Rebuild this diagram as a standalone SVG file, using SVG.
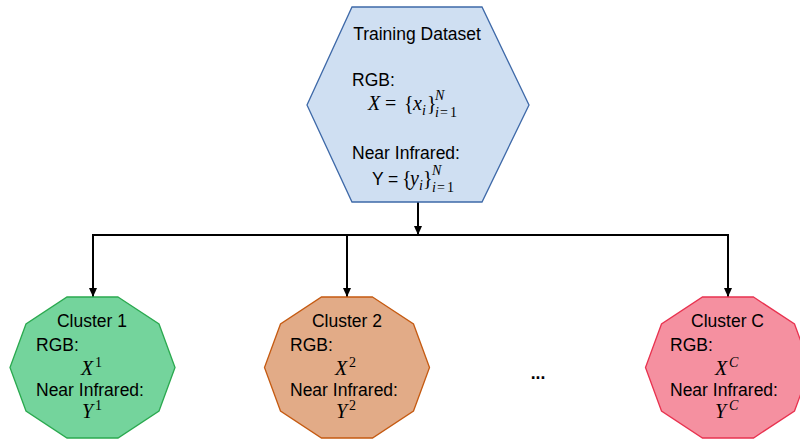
<svg xmlns="http://www.w3.org/2000/svg" width="800" height="441" viewBox="0 0 800 441">
<defs>
<marker id="arr" markerUnits="userSpaceOnUse" markerWidth="10" markerHeight="10" viewBox="0 0 10 10" refX="9" refY="5" orient="auto">
<path d="M0,1 L9,5 L0,9 Z" fill="#000"/>
</marker>
<style>
.t{font-family:"Liberation Sans",Arial,sans-serif;font-size:17.5px;fill:#000}
.m{font-family:"Liberation Serif","Times New Roman",serif;font-size:20px;fill:#000}
.mi{font-style:italic}
.s{font-size:14px}
.c{stroke:#000;stroke-width:2;fill:none}
</style>
</defs>
<g id="connectors">
<line class="c" x1="418" y1="202" x2="418" y2="235" marker-end="url(#arr)"/>
<polyline class="c" points="93,235 728,235 728,297" marker-end="url(#arr)"/>
<line class="c" x1="93" y1="234" x2="93" y2="297" marker-end="url(#arr)"/>
<line class="c" x1="347" y1="235" x2="347" y2="297" marker-end="url(#arr)"/>
</g>
<g id="training">
<polygon points="352,7 482,7 529,105 482,202 352,202 307,105" fill="#cfdff2" stroke="#3e69a8" stroke-width="1.3"/>
<text class="t" x="417" y="40" text-anchor="middle">Training Dataset</text>
<text class="t" x="352" y="86">RGB:</text>
<text class="m"><tspan class="mi" x="368" y="110">X</tspan><tspan x="385">=</tspan><tspan x="404">{</tspan><tspan class="mi" x="413">x</tspan><tspan class="mi s" x="422" y="115">i</tspan><tspan x="427" y="110">}</tspan><tspan class="mi s" x="435" y="100">N</tspan><tspan class="mi s" x="435" y="117">i</tspan><tspan class="s" x="440">=</tspan><tspan class="s" x="450">1</tspan></text>
<text class="t" x="352" y="159">Near Infrared:</text>
<text class="t"><tspan x="372" y="185">Y</tspan><tspan x="388">=</tspan></text>
<text class="m"><tspan x="402" y="185">{</tspan><tspan class="mi" x="410">y</tspan><tspan class="mi s" x="419" y="190">i</tspan><tspan x="423" y="185">}</tspan><tspan class="mi s" x="432" y="175">N</tspan><tspan class="mi s" x="432" y="192">i</tspan><tspan class="s" x="437">=</tspan><tspan class="s" x="447">1</tspan></text>
</g>
<g id="cluster1">
<polygon points="118,297 159,324 175,367.5 159,411 118,438 67,438 26,411 10,367.5 26,324 67,297" fill="#74d49c" stroke="#2aa94f" stroke-width="1.3"/>
<text class="t" x="92" y="327" text-anchor="middle">Cluster 1</text>
<text class="t" x="36" y="351">RGB:</text>
<text class="m"><tspan class="mi" x="81" y="375">X</tspan><tspan class="s" x="95" y="367">1</tspan></text>
<text class="t" x="36" y="396">Near Infrared:</text>
<text class="m"><tspan class="mi" x="82" y="418">Y</tspan><tspan class="s" x="95" y="410">1</tspan></text>
</g>
<g id="cluster2">
<polygon points="372.5,297 413.5,324 429.5,367.5 413.5,411 372.5,438 321.5,438 280.5,411 264.5,367.5 280.5,324 321.5,297" fill="#e2ab87" stroke="#c55a11" stroke-width="1.3"/>
<text class="t" x="347" y="327" text-anchor="middle">Cluster 2</text>
<text class="t" x="290" y="351">RGB:</text>
<text class="m"><tspan class="mi" x="335" y="375">X</tspan><tspan class="s" x="349" y="367">2</tspan></text>
<text class="t" x="290" y="396">Near Infrared:</text>
<text class="m"><tspan class="mi" x="336" y="418">Y</tspan><tspan class="s" x="349" y="410">2</tspan></text>
</g>
<g id="dots">
<text class="t" x="538" y="379" text-anchor="middle" style="font-weight:bold">...</text>
</g>
<g id="clusterC">
<polygon points="753.5,297 794.5,324 810.5,367.5 794.5,411 753.5,438 702.5,438 661.5,411 645.5,367.5 661.5,324 702.5,297" fill="#f590a0" stroke="#e8324f" stroke-width="1.3"/>
<text class="t" x="727.5" y="327" text-anchor="middle">Cluster C</text>
<text class="t" x="670" y="351">RGB:</text>
<text class="m"><tspan class="mi" x="715" y="375">X</tspan><tspan class="mi s" x="729" y="367">C</tspan></text>
<text class="t" x="670" y="396">Near Infrared:</text>
<text class="m"><tspan class="mi" x="715" y="418">Y</tspan><tspan class="mi s" x="729" y="410">C</tspan></text>
</g>
</svg>
